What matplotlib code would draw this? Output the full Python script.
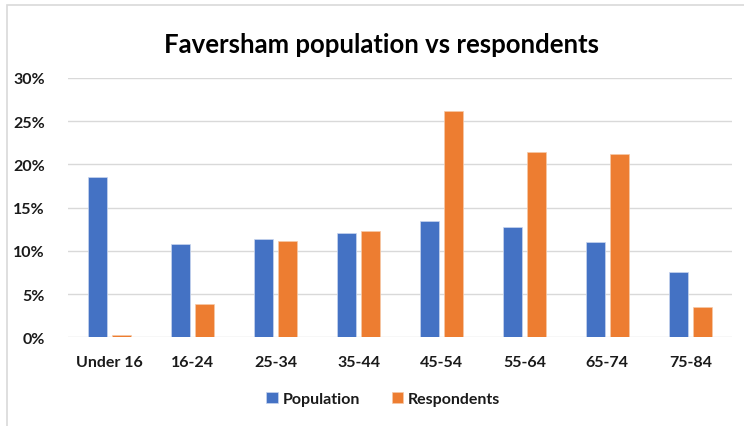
import matplotlib
matplotlib.use("Agg")
import matplotlib.pyplot as plt
import numpy as np
from matplotlib.patches import Rectangle

categories = ["Under 16", "16-24", "25-34", "35-44", "45-54", "55-64", "65-74", "75-84"]
population = [18.5, 10.8, 11.35, 12.05, 13.4, 12.8, 11.0, 7.6]
respondents = [0.25, 3.8, 11.1, 12.3, 26.15, 21.4, 21.15, 3.5]
yticks = [0, 5, 10, 15, 20, 25, 30]

FONT = ["Lato", "DejaVu Sans"]
plt.rcParams["font.family"] = FONT

fig = plt.figure(figsize=(7.44, 4.27), dpi=100)
ax = fig.add_axes([0.0918, 0.2077, 0.8917, 0.6073])

x = np.arange(len(categories))
w = 0.23
gap = 0.055
off = (w + gap) / 2
ax.bar(x - off, population, w, color="#4472C4", edgecolor="#c9d6ee", linewidth=0.5, label="Population", zorder=3)
ax.bar(x + off, respondents, w, color="#ED7D31", edgecolor="#f6c9a8", linewidth=0.5, label="Respondents", zorder=3)

ax.set_xlim(-0.5, len(categories) - 0.5)
ax.set_ylim(0, 30)
ax.set_yticks(yticks)
ax.set_yticklabels([f"{v}%" for v in yticks], fontsize=11.5, fontweight="bold", color="#1a1a1a")
ax.set_xticks(x)
ax.set_xticklabels(categories, fontsize=11.5, fontweight="bold", color="#1a1a1a")
ax.tick_params(axis="both", length=0)
ax.tick_params(axis="x", pad=13)
ax.tick_params(axis="y", pad=17)
ax.yaxis.grid(True, color="#d9d9d9", linewidth=1.0, zorder=0)
for s in ax.spines.values():
    s.set_visible(False)

fig.text(0.513, 0.895, "Faversham population vs respondents", ha="center", va="center",
         fontsize=18.5, fontweight="bold", color="#000000")

leg = fig.legend(loc="center", bbox_to_anchor=(0.515, 0.063), ncol=2, frameon=False,
                 prop={"size": 11.5, "weight": "bold"}, handlelength=0.7, handleheight=0.7,
                 handletextpad=0.3, columnspacing=2.0)
for t in leg.get_texts():
    t.set_color("#1a1a1a")

fig.patches.append(Rectangle((7/744, -0.1), 1.2, 1 - 6/427 + 0.1, transform=fig.transFigure,
                             fill=False, edgecolor="#d9d9d9", linewidth=1.2))

fig.savefig("out.png", dpi=100)
